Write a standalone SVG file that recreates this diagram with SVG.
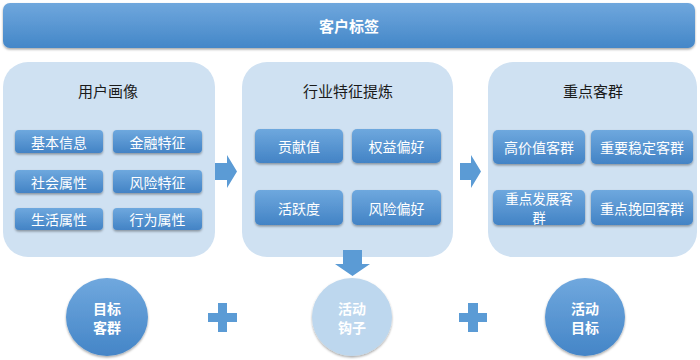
<svg xmlns="http://www.w3.org/2000/svg" width="700" height="360" viewBox="0 0 700 360">
<defs>
<linearGradient id="gBar" x1="0" y1="0" x2="0" y2="1"><stop offset="0" stop-color="#6fa7dd"/><stop offset="1" stop-color="#4487c8"/></linearGradient>
<linearGradient id="gBtn" x1="0" y1="0" x2="0" y2="1"><stop offset="0" stop-color="#6ea8de"/><stop offset="1" stop-color="#4383c5"/></linearGradient>
<linearGradient id="gEl" x1="0" y1="0" x2="0" y2="1"><stop offset="0" stop-color="#70a8de"/><stop offset="1" stop-color="#4485c7"/></linearGradient>
<filter id="sh" x="-10%" y="-10%" width="120%" height="130%"><feDropShadow dx="0" dy="1.5" stdDeviation="1.2" flood-color="#000" flood-opacity="0.35"/></filter>
</defs>
<style>
.panel{fill:#cfe1f2}
.btn{fill:url(#gBtn);filter:url(#sh)}
.bt{font-family:"Noto Sans CJK SC","Liberation Sans",sans-serif;font-size:14px;fill:#fff;text-anchor:middle;dominant-baseline:central}
.pt{font-family:"Noto Sans CJK SC","Liberation Sans",sans-serif;font-size:15px;fill:#1a1a1a;text-anchor:middle;dominant-baseline:central}
.et{font-family:"Noto Sans CJK SC","Liberation Sans",sans-serif;font-size:14px;font-weight:bold;fill:#fff;text-anchor:middle;dominant-baseline:central}
.arr{fill:#5b9bd5}
</style>
<g id="top">
<rect x="3" y="3" width="692" height="45" rx="7" fill="url(#gBar)" filter="url(#sh)"/>
<text x="349" y="25" class="et" style="font-size:15px">客户标签</text>
</g>
<g id="panel1">
<rect x="3" y="62" width="212" height="195" rx="25" class="panel"/>
<text x="108" y="90" class="pt">用户画像</text>
<rect x="15" y="130" width="88" height="23" rx="4" class="btn"/><text x="59" y="141.5" class="bt">基本信息</text>
<rect x="113" y="130" width="89" height="23" rx="4" class="btn"/><text x="157.5" y="141.5" class="bt">金融特征</text>
<rect x="15" y="170" width="88" height="23" rx="4" class="btn"/><text x="59" y="181.5" class="bt">社会属性</text>
<rect x="113" y="170" width="89" height="23" rx="4" class="btn"/><text x="157.5" y="181.5" class="bt">风险特征</text>
<rect x="15" y="208" width="88" height="22" rx="4" class="btn"/><text x="59" y="219" class="bt">生活属性</text>
<rect x="113" y="208" width="89" height="22" rx="4" class="btn"/><text x="157.5" y="219" class="bt">行为属性</text>
</g>
<g id="panel2">
<rect x="242" y="62" width="211" height="195" rx="25" class="panel"/>
<text x="348" y="90" class="pt">行业特征提炼</text>
<rect x="255" y="129" width="88" height="34" rx="5" class="btn"/><text x="299" y="146" class="bt">贡献值</text>
<rect x="352" y="129" width="89" height="34" rx="5" class="btn"/><text x="396.5" y="146" class="bt">权益偏好</text>
<rect x="255" y="190" width="88" height="35" rx="5" class="btn"/><text x="299" y="207.5" class="bt">活跃度</text>
<rect x="352" y="190" width="89" height="35" rx="5" class="btn"/><text x="396.5" y="207.5" class="bt">风险偏好</text>
</g>
<g id="panel3">
<rect x="488" y="62" width="209" height="195" rx="25" class="panel"/>
<text x="593" y="90" class="pt">重点客群</text>
<rect x="493" y="130" width="92" height="34" rx="5" class="btn"/><text x="539" y="147" class="bt">高价值客群</text>
<rect x="591" y="130" width="102" height="34" rx="5" class="btn"/><text x="642" y="147" class="bt">重要稳定客群</text>
<rect x="493" y="190" width="92" height="35" rx="5" class="btn"/><text class="bt" style="font-size:13.5px"><tspan x="539" y="197.6">重点发展客</tspan><tspan x="539" y="217.4">群</tspan></text>
<rect x="591" y="190" width="102" height="35" rx="5" class="btn"/><text x="642" y="207.5" class="bt">重点挽回客群</text>
</g>
<g id="connectors">
<polygon class="arr" points="215,163 227,163 227,155 237,171.5 227,188 227,180 215,180"/>
<polygon class="arr" points="460,163 471,163 471,155 481,171.5 471,188 471,180 460,180"/>
<polygon class="arr" points="343,250 362,250 362,264 370,264 352.5,276 335,264 343,264"/>
<path class="arr" d="M218,303h9v10h10v9h-10v10h-9v-10h-10v-9h10z"/>
<path class="arr" d="M468,303h10v10h9v9h-9v10h-10v-10h-9v-9h9z"/>
</g>
<g id="e1">
<ellipse cx="107" cy="317" rx="41" ry="39" fill="url(#gEl)" filter="url(#sh)"/>
<text class="et"><tspan x="107" y="308">目标</tspan><tspan x="107" y="327">客群</tspan></text>
</g>
<g id="e2">
<ellipse cx="352" cy="317" rx="40" ry="39" fill="#bdd7ee" filter="url(#sh)"/>
<text class="et"><tspan x="352" y="308">活动</tspan><tspan x="352" y="327">钩子</tspan></text>
</g>
<g id="e3">
<ellipse cx="585" cy="317" rx="40" ry="39" fill="url(#gEl)" filter="url(#sh)"/>
<text class="et"><tspan x="585" y="308">活动</tspan><tspan x="585" y="327">目标</tspan></text>
</g>
</svg>
